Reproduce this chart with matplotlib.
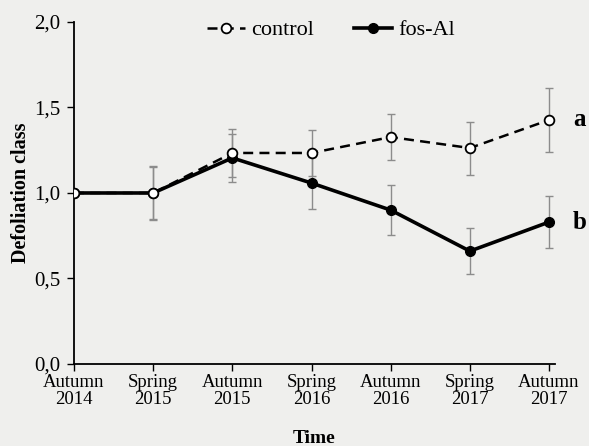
import numpy as np
import matplotlib.pyplot as plt

plt.rcParams['font.family'] = ['Liberation Serif', 'DejaVu Serif']

times = ['Autumn\n2014', 'Spring\n2015', 'Autumn\n2015', 'Spring\n2016',
         'Autumn\n2016', 'Spring\n2017', 'Autumn\n2017']
control = [1.0, 1.0, 1.234, 1.234, 1.327, 1.263, 1.427]
control_err = [0.0, 0.15, 0.14, 0.135, 0.135, 0.155, 0.185]
fosal = [1.0, 1.0, 1.205, 1.058, 0.90, 0.66, 0.83]
fosal_err = [0.0, 0.16, 0.14, 0.15, 0.145, 0.135, 0.15]

x = np.arange(len(times))

fig = plt.figure(figsize=(5.89, 4.46), dpi=100, facecolor='#efefed')
ax = fig.add_axes([0.1256, 0.1839, 0.816, 0.7668])
ax.set_facecolor('#efefed')

ax.errorbar(x, control, yerr=control_err, fmt='none', ecolor='#8c8c8c',
            elinewidth=1.0, capsize=3, capthick=1.0, zorder=1)
ax.errorbar(x, fosal, yerr=fosal_err, fmt='none', ecolor='#8c8c8c',
            elinewidth=1.0, capsize=3, capthick=1.0, zorder=1)

ax.plot(x, control, color='black', linestyle=(0, (4, 2.5)), lw=1.8,
        marker='o', markersize=7, markerfacecolor='white',
        markeredgecolor='black', markeredgewidth=1.3, label='control', zorder=3)
ax.plot(x, fosal, color='black', linestyle='-', lw=2.6,
        marker='o', markersize=7, markerfacecolor='black',
        markeredgecolor='black', label='fos-Al', zorder=2)

ax.text(6.3, control[-1], 'a', fontsize=18, fontweight='bold', va='center', ha='left')
ax.text(6.3, fosal[-1], 'b', fontsize=18, fontweight='bold', va='center', ha='left')

ax.set_xlim(0, 6.07)
ax.set_ylim(0, 2.0)
ax.set_xticks(x)
ax.set_xticklabels(times, fontsize=13.5, linespacing=1.0)
ax.set_yticks([0, 0.5, 1.0, 1.5, 2.0])
ax.set_yticklabels(['0,0', '0,5', '1,0', '1,5', '2,0'], fontsize=15)
ax.tick_params(axis='both', direction='out', length=5, width=1.0)
ax.tick_params(axis='y', pad=5)
ax.tick_params(axis='x', pad=2)

for s in ['top', 'right']:
    ax.spines[s].set_visible(False)
for s in ['left', 'bottom']:
    ax.spines[s].set_linewidth(1.3)

ax.set_xlabel('Time', fontsize=14, fontweight='bold', labelpad=16)
ax.set_ylabel('Defoliation class', fontsize=14.5, fontweight='bold', labelpad=2)

ax.legend(loc='upper center', bbox_to_anchor=(0.535, 1.065), ncol=2, frameon=False,
          fontsize=16, handlelength=1.7, columnspacing=1.8, handletextpad=0.3)

fig.savefig('out.png', dpi=100, facecolor=fig.get_facecolor())
